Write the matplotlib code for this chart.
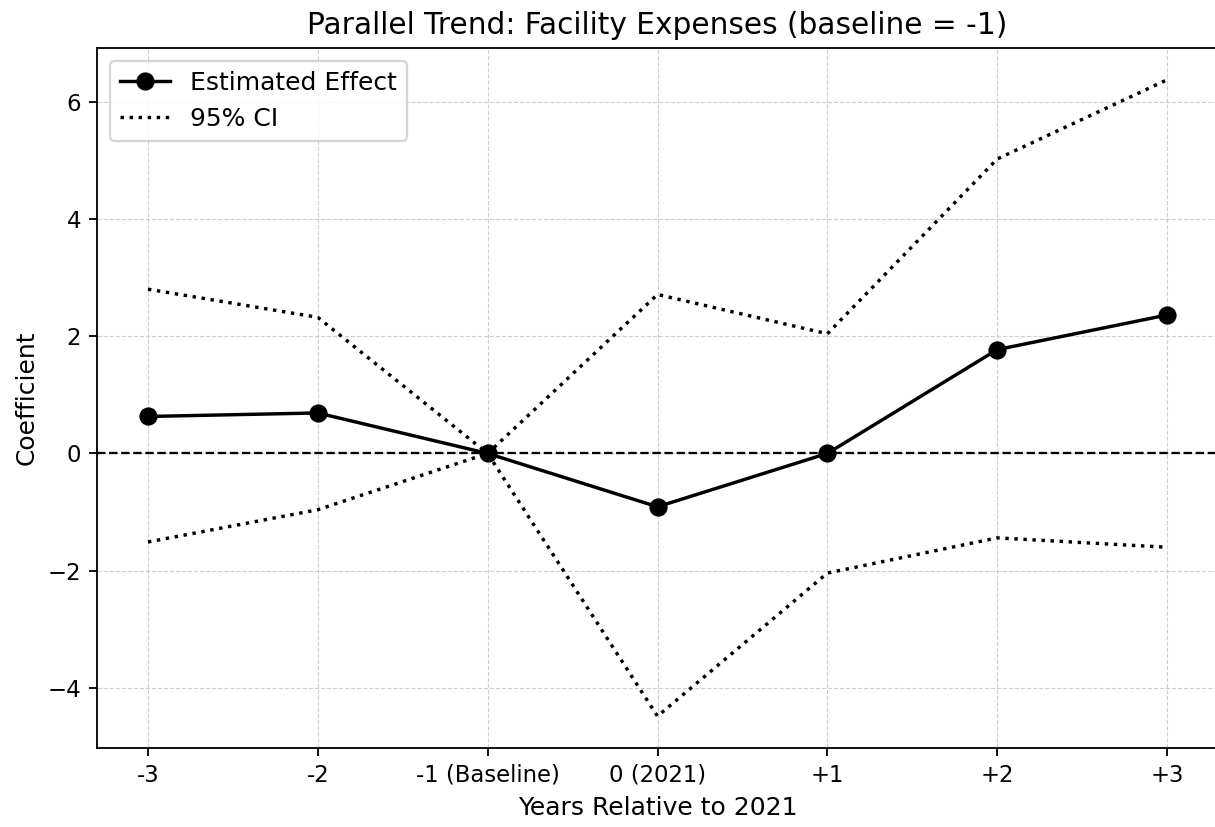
import matplotlib
matplotlib.use("Agg")
import matplotlib.pyplot as plt
import numpy as np

labels = ["-3", "-2", "-1 (Baseline)", "0 (2021)", "+1", "+2", "+3"]
estimate = [0.63, 0.69, 0.0, -0.91, 0.0, 1.77, 2.36]
ci_upper = [2.80, 2.32, 0.0, 2.71, 2.04, 5.02, 6.37]
ci_lower = [-1.51, -0.96, 0.0, -4.48, -2.04, -1.44, -1.60]

DPI = 164
W, H = 1215, 827
fig = plt.figure(figsize=(W / DPI, H / DPI), dpi=DPI)
ax = fig.add_axes([97 / W, (H - 748) / H, (1218 - 97) / W, (748 - 48) / H])

x = np.arange(len(labels))
ax.plot(x, estimate, color="black", marker="o", markersize=7, linewidth=1.5, label="Estimated Effect")
ax.plot(x, ci_upper, color="black", linestyle=":", linewidth=1.5, label="95% CI")
ax.plot(x, ci_lower, color="black", linestyle=":", linewidth=1.5)
ax.axhline(0, color="black", linestyle="--", linewidth=1.0)

ax.set_xticks(x)
ax.set_xticklabels(labels)
ax.set_xlabel("Years Relative to 2021", fontsize=11)
ax.set_ylabel("Coefficient", fontsize=11)
ax.set_title("Parallel Trend: Facility Expenses (baseline = -1)", fontsize=13)
ax.grid(True, linestyle="--", linewidth=0.5, alpha=0.6)
ax.legend(loc="upper left", fontsize=11)

fig.savefig("out.png", dpi=DPI)
